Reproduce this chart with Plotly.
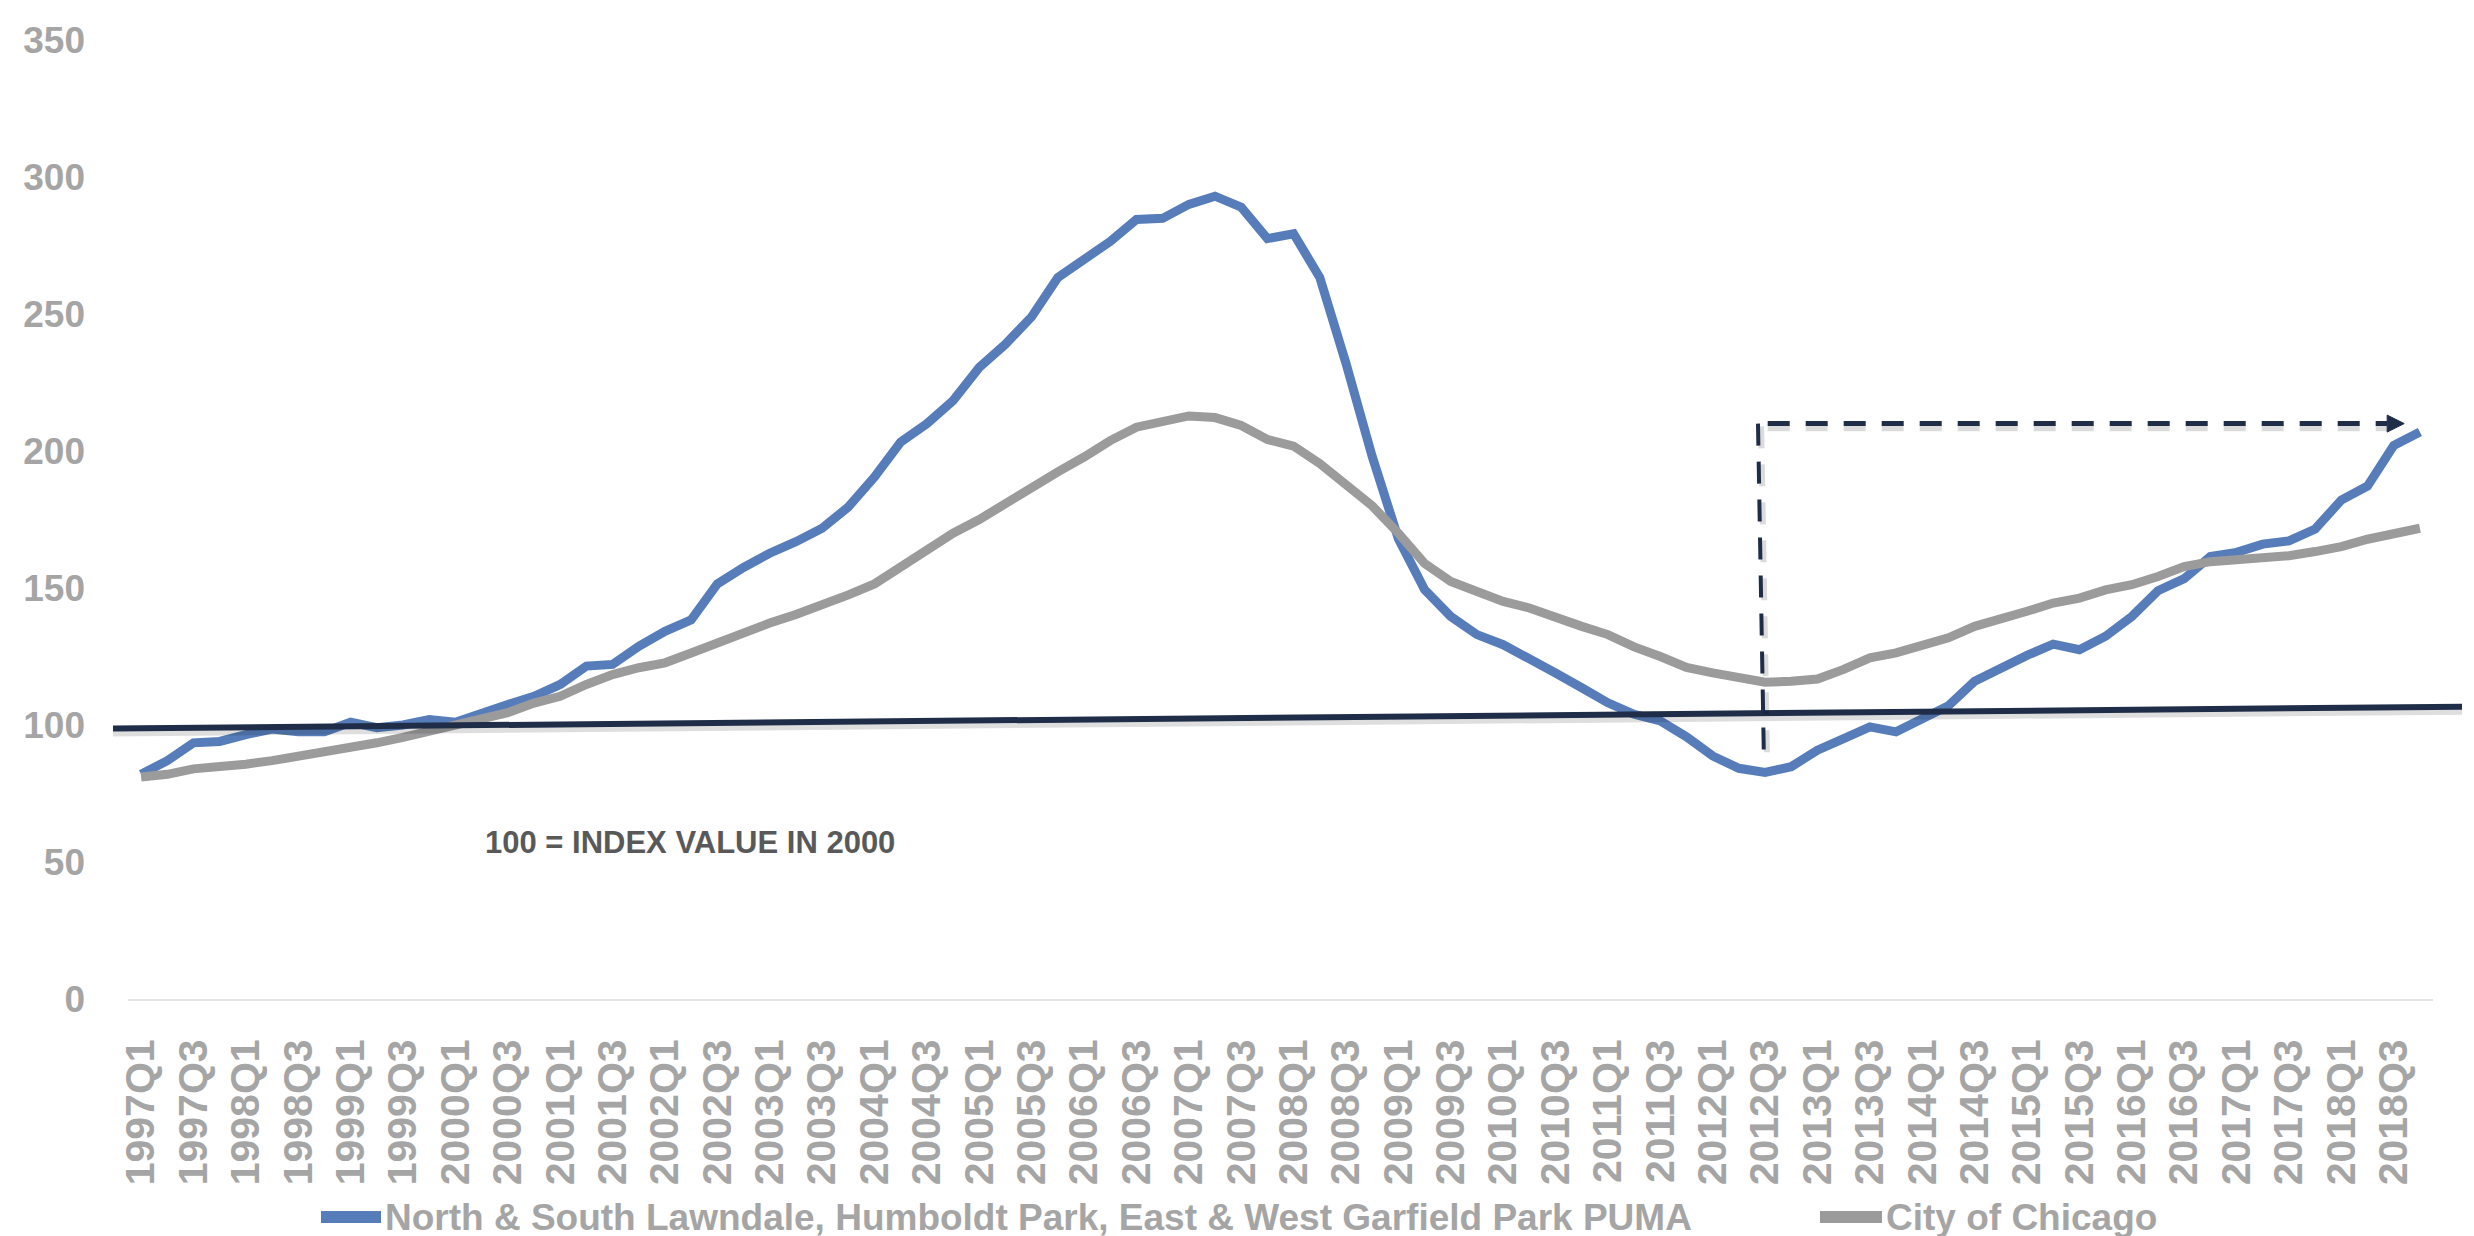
import plotly.graph_objects as go

# ---------------- data ----------------
years = list(range(1997, 2019))
quarters = [f"{y}Q{q}" for y in years for q in (1, 2, 3, 4)]
tick_labels = quarters[::2]

series_puma_name = "North & South Lawndale, Humboldt Park, East & West Garfield Park PUMA"
series_city_name = "City of Chicago"

puma_index = [
    82.0, 87.0, 93.5, 94.0, 96.5, 98.5, 97.5, 97.5,
    101.0, 99.0, 100.0, 102.0, 101.0, 104.5, 107.5, 110.5,
    114.8, 121.5, 122.1, 128.7, 134.2, 138.4, 151.5, 157.5,
    162.7, 166.9, 171.8, 179.6, 190.5, 203.3, 210.0, 218.4,
    230.5, 239.0, 249.0, 263.3, 270.0, 276.5, 284.5, 284.9,
    290.0, 293.0, 289.0, 277.5, 279.3, 263.3, 232.0, 198.0,
    168.0, 149.4, 139.6, 133.0, 129.3, 124.5, 119.0, 113.6,
    108.1, 103.9, 101.5, 95.7, 88.7, 84.2, 82.7, 84.8,
    90.8, 95.0, 99.3, 97.5, 102.0, 107.0, 116.0, 120.9,
    125.4, 129.5, 127.5, 132.4, 139.6, 149.0, 153.4, 161.5,
    163.0, 166.0, 167.2, 171.5, 182.1, 187.2, 202.0, 206.9,
]

chicago_index = [
    81.0, 82.0, 84.0, 84.5, 85.7, 87.0, 88.5, 90.2,
    91.8, 93.5, 95.5, 97.7, 99.6, 101.8, 104.5, 108.0,
    110.5, 114.8, 118.4, 120.9, 122.7, 126.3, 130.0, 134.2,
    137.2, 140.3, 143.5, 147.5, 151.5, 157.5, 164.0, 170.0,
    175.0, 181.0, 186.6, 192.4, 197.8, 203.8, 208.7, 210.8,
    212.8, 212.2, 209.3, 204.2, 201.8, 195.4, 187.5, 180.0,
    170.0, 159.0, 152.4, 148.7, 145.1, 142.7, 139.0, 136.0,
    133.0, 128.5, 125.0, 121.0, 119.0, 117.2, 115.6, 116.0,
    116.8, 120.3, 124.5, 126.3, 128.7, 131.8, 136.0, 138.4,
    141.5, 144.5, 146.3, 149.3, 151.2, 154.2, 157.8, 159.6,
    160.3, 161.5, 161.8, 163.3, 165.1, 167.8, 170.2, 171.8,
]

y_ticks = [0, 50, 100, 150, 200, 250, 300, 350]
note_text = "100 = INDEX VALUE IN 2000"

# annotation geometry (reference line drawn by hand in the original)
ref_line_start_value = 98.7
ref_line_end_value = 106.7
arrow_level = 210.0
arrow_bottom_value = 91.0

# ---------------- styling ----------------
W, H = 2474, 1236
PL, PR, PT, PB = 120, 2425, 28, 991
Y_MAX = 350

BLUE = "#567DB9"
GRAY = "#9B9B9B"
NAVY = "#1F2D48"
TICK_GRAY = "#A5A5A5"
FONT = "Liberation Sans, Arial, sans-serif"


def paper_x(px):
    return (px - PL) / (PR - PL)


def paper_y_px(py):
    return (PB - py) / (PB - PT)


fig = go.Figure()
fig.add_trace(go.Scatter(x=quarters, y=puma_index, mode="lines", name=series_puma_name,
                         line=dict(color=BLUE, width=9), showlegend=False))
fig.add_trace(go.Scatter(x=quarters, y=chicago_index, mode="lines", name=series_city_name,
                         line=dict(color=GRAY, width=9), showlegend=False))

shapes = []
# solid reference line near 100 (with soft shadow)
x0p, x1p = paper_x(105), paper_x(2454)
for dy, col, w in [(-4 / (PB - PT), "rgba(0,0,0,0.13)", 8), (0, NAVY, 6)]:
    shapes.append(dict(type="line", xref="paper", yref="paper",
                       x0=x0p, x1=x1p,
                       y0=ref_line_start_value / Y_MAX + dy, y1=ref_line_end_value / Y_MAX + dy,
                       line=dict(color=col, width=w)))

# dashed vertical from 2012Q3 trough up to 210, dashed horizontal arrow to end
i_trough = quarters.index("2012Q3")
i_end = quarters.index("2018Q4")
dash = "22px,16px"
shadow = "rgba(0,0,0,0.14)"
# vertical
shapes.append(dict(type="line", xref="x", yref="y", x0=i_trough - 0.27 + 0.12, x1=i_trough - 0.05 + 0.12,
                   y0=arrow_level - 1.0, y1=arrow_bottom_value - 1.0,
                   line=dict(color=shadow, width=6, dash=dash)))
shapes.append(dict(type="line", xref="x", yref="y", x0=i_trough - 0.27, x1=i_trough - 0.05,
                   y0=arrow_level, y1=arrow_bottom_value,
                   line=dict(color=NAVY, width=4, dash=dash)))
# horizontal
shapes.append(dict(type="line", xref="x", yref="y", x0=i_trough + 0.1, x1=i_end - 1.25,
                   y0=arrow_level - 1.5, y1=arrow_level - 1.5,
                   line=dict(color=shadow, width=7, dash=dash)))
shapes.append(dict(type="line", xref="x", yref="y", x0=i_trough + 0.1, x1=i_end - 1.25,
                   y0=arrow_level, y1=arrow_level,
                   line=dict(color=NAVY, width=5, dash=dash)))
# arrow head
tip = i_end - 0.6
base = tip - 0.65
shapes.append(dict(type="path", xref="x", yref="y",
                   path=f"M {base},{arrow_level + 3.1} L {tip},{arrow_level} L {base},{arrow_level - 3.1} Z",
                   fillcolor=NAVY, line=dict(color=NAVY, width=1)))

# custom legend
leg_y = paper_y_px(1210)
shapes.append(dict(type="line", xref="paper", yref="paper", x0=paper_x(313), x1=paper_x(373),
                   y0=leg_y, y1=leg_y, line=dict(color=BLUE, width=12)))
shapes.append(dict(type="line", xref="paper", yref="paper", x0=paper_x(1812), x1=paper_x(1874),
                   y0=leg_y, y1=leg_y, line=dict(color=GRAY, width=12)))

annotations = [
    dict(text=note_text, xref="x", yref="y", x=20.95, y=57.3, showarrow=False,
         xanchor="center", yanchor="middle",
         font=dict(family=FONT, size=31, color="#595959", weight="bold")),
    dict(text=series_puma_name, xref="paper", yref="paper", x=paper_x(375), y=leg_y,
         showarrow=False, xanchor="left", yanchor="middle",
         font=dict(family=FONT, size=37, color=TICK_GRAY, weight="bold")),
    dict(text=series_city_name, xref="paper", yref="paper", x=paper_x(1876), y=leg_y,
         showarrow=False, xanchor="left", yanchor="middle",
         font=dict(family=FONT, size=37, color=TICK_GRAY, weight="bold")),
]

fig.update_layout(
    width=W, height=H,
    margin=dict(l=PL, r=W - PR, t=PT, b=H - PB),
    paper_bgcolor="white", plot_bgcolor="white",
    shapes=shapes, annotations=annotations,
    showlegend=False,
    xaxis=dict(type="category", range=[-0.5, len(quarters) - 0.5],
               tickmode="array", tickvals=tick_labels, ticktext=tick_labels,
               tickangle=-90, ticks="", showgrid=False, zeroline=False,
               showline=True, linecolor="#E4E4E4", linewidth=2,
               ticklabelstandoff=22,
               tickfont=dict(family=FONT, size=41, color=TICK_GRAY, weight="bold")),
    yaxis=dict(range=[0, Y_MAX], tickmode="array", tickvals=y_ticks,
               ticks="", showgrid=False, zeroline=False, showline=False,
               ticklabelstandoff=42,
               tickfont=dict(family=FONT, size=37, color=TICK_GRAY, weight="bold")),
)

fig.write_html("out.html")
